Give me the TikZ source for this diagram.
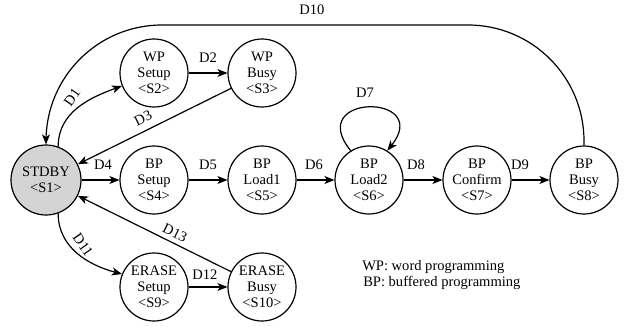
\documentclass[tikz,border=0pt]{standalone}
\usepackage{fontspec}
\setmainfont{Liberation Serif}
\usetikzlibrary{arrows.meta}
\begin{document}
\begin{tikzpicture}[x=0.75pt,y=-0.75pt,
  st/.style={circle,draw,line width=0.9pt,minimum size=51pt,inner sep=0pt,align=center,
    font=\fontsize{10.9}{12}\selectfont},
  tr/.style={-{Stealth[length=7.5pt,width=6pt,inset=2pt]},line width=0.9pt},
  lb/.style={font=\fontsize{10.9}{12}\selectfont,inner sep=0pt}]
\useasboundingbox (0,0) rectangle (628,326);
% states
\node[st,fill=black!17,minimum size=52.5pt] (S1) at (46,180) {STDBY\\<S1>};
\node[st] (S2) at (154,73) {WP\\Setup\\<S2>};
\node[st] (S3) at (262,73) {WP\\Busy\\<S3>};
\node[st] (S4) at (154,180) {BP\\Setup\\<S4>};
\node[st] (S5) at (262,180) {BP\\Load1\\<S5>};
\node[st] (S6) at (369,180) {BP\\Load2\\<S6>};
\node[st] (S7) at (477,180) {BP\\Confirm\\<S7>};
\node[st] (S8) at (584,180) {BP\\Busy\\<S8>};
\node[st] (S9) at (154,287) {ERASE\\Setup\\<S9>};
\node[st] (S10) at (262,287) {ERASE\\Busy\\<S10>};
% transitions
\draw[tr] (S1.70) to[out=90,in=200] (S2.202);
\draw[tr] (S2) -- (S3);
\draw[tr] (S3) -- (S1);
\draw[tr] (S1) -- (S4);
\draw[tr] (S4) -- (S5);
\draw[tr] (S5) -- (S6);
\draw[tr] (S6.122) .. controls (304,93) and (433,93) .. (S6.58);
\draw[tr] (S6) -- (S7);
\draw[tr] (S7) -- (S8);
\draw[tr,rounded corners=87pt] (S8.north) |- (300,25) -| (S1.north);
\draw[tr] (S1.-70) to[out=-90,in=165] (S9.158);
\draw[tr] (S9) -- (S10);
\draw[tr] (S10) -- (S1);
% labels
\node[lb,rotate=55] (l1) at (72,97) {D1};
\node[lb] (l2) at (208,58) {D2};
\node[lb,rotate=26.3] (l3) at (143,118) {D3};
\node[lb] (l4) at (103,165) {D4};
\node[lb] (l5) at (208,165) {D5};
\node[lb] (l6) at (314,165) {D6};
\node[lb] (l7) at (365,93) {D7};
\node[lb] (l8) at (416,165) {D8};
\node[lb] (l9) at (520,165) {D9};
\node[lb] (l10) at (312,10) {D10};
\node[lb,rotate=-55] (l11) at (83,245) {D11};
\node[lb] (l12) at (205,275) {D12};
\node[lb,rotate=-26.3] (l13) at (175,233) {D13};
% legend
\node[lb,anchor=west] (lg1) at (362,267) {WP: word programming};
\node[lb,anchor=west] (lg2) at (363,283) {BP: buffered programming};
\end{tikzpicture}
\end{document}
